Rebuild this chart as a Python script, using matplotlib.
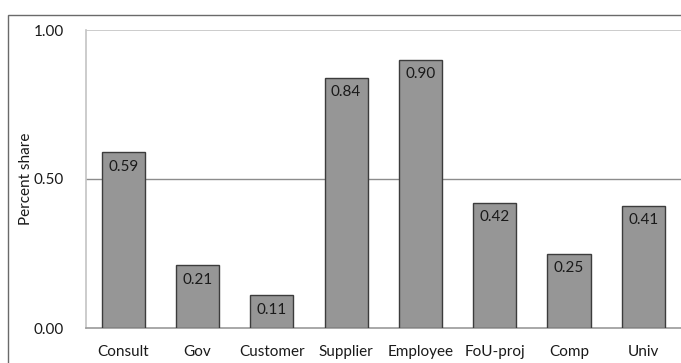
import matplotlib
matplotlib.use("Agg")
import matplotlib.pyplot as plt
from matplotlib.patches import Rectangle

categories = ["Consult", "Gov", "Customer", "Supplier", "Employee", "FoU-proj", "Comp", "Univ"]
shares = [0.59, 0.21, 0.11, 0.84, 0.90, 0.42, 0.25, 0.41]
yticks = [0.0, 0.5, 1.0]

plt.rcParams["font.family"] = ["Lato", "DejaVu Sans"]

W, H = 681, 363
fig = plt.figure(figsize=(W / 100, H / 100), dpi=100)

# frame around the whole chart, running off the right and bottom edges
fig.patches.append(Rectangle((8 / W, -0.02), 1.05, 1 - 15 / H + 0.02,
                             transform=fig.transFigure, fill=False,
                             edgecolor="#6a6a6a", linewidth=1.0))

ax = fig.add_axes([86 / W, 1 - 328 / H, 594.5 / W, 298 / H])
x = range(len(categories))
bars = ax.bar(x, shares, width=0.58, color="#969696", edgecolor="#3c3c3c",
              linewidth=1.0, zorder=3)

for b, v in zip(bars, shares):
    ax.text(b.get_x() + b.get_width() / 2, v - 0.025, f"{v:.2f}",
            ha="center", va="top", fontsize=11, color="#1a1a1a", zorder=4)

ax.set_xlim(-0.5, len(categories) - 0.5)
ax.set_ylim(0, 1)
ax.set_yticks(yticks)
ax.set_yticklabels([f"{t:.2f}" for t in yticks], fontsize=11, color="#1a1a1a")
ax.set_xticks(list(x))
ax.set_xticklabels(categories, fontsize=11, color="#1a1a1a")
ax.tick_params(length=0)
ax.tick_params(axis="x", pad=12)
ax.tick_params(axis="y", pad=16)

ax.axhline(0.5, color="#8c8c8c", linewidth=1.0, zorder=1)
ax.axhline(1.0, color="#c4c4c4", linewidth=1.2, zorder=1)

for s in ("top", "right"):
    ax.spines[s].set_visible(False)
ax.spines["left"].set_color("#c4c4c4")
ax.spines["bottom"].set_color("#9a9a9a")
ax.spines["left"].set_linewidth(1.2)
ax.spines["bottom"].set_linewidth(1.2)

ax.set_ylabel("Percent share", fontsize=11, color="#1a1a1a")
ax.yaxis.set_label_coords((33 - 86) / 594.5, 0.5)

fig.savefig("out.png", dpi=100)
